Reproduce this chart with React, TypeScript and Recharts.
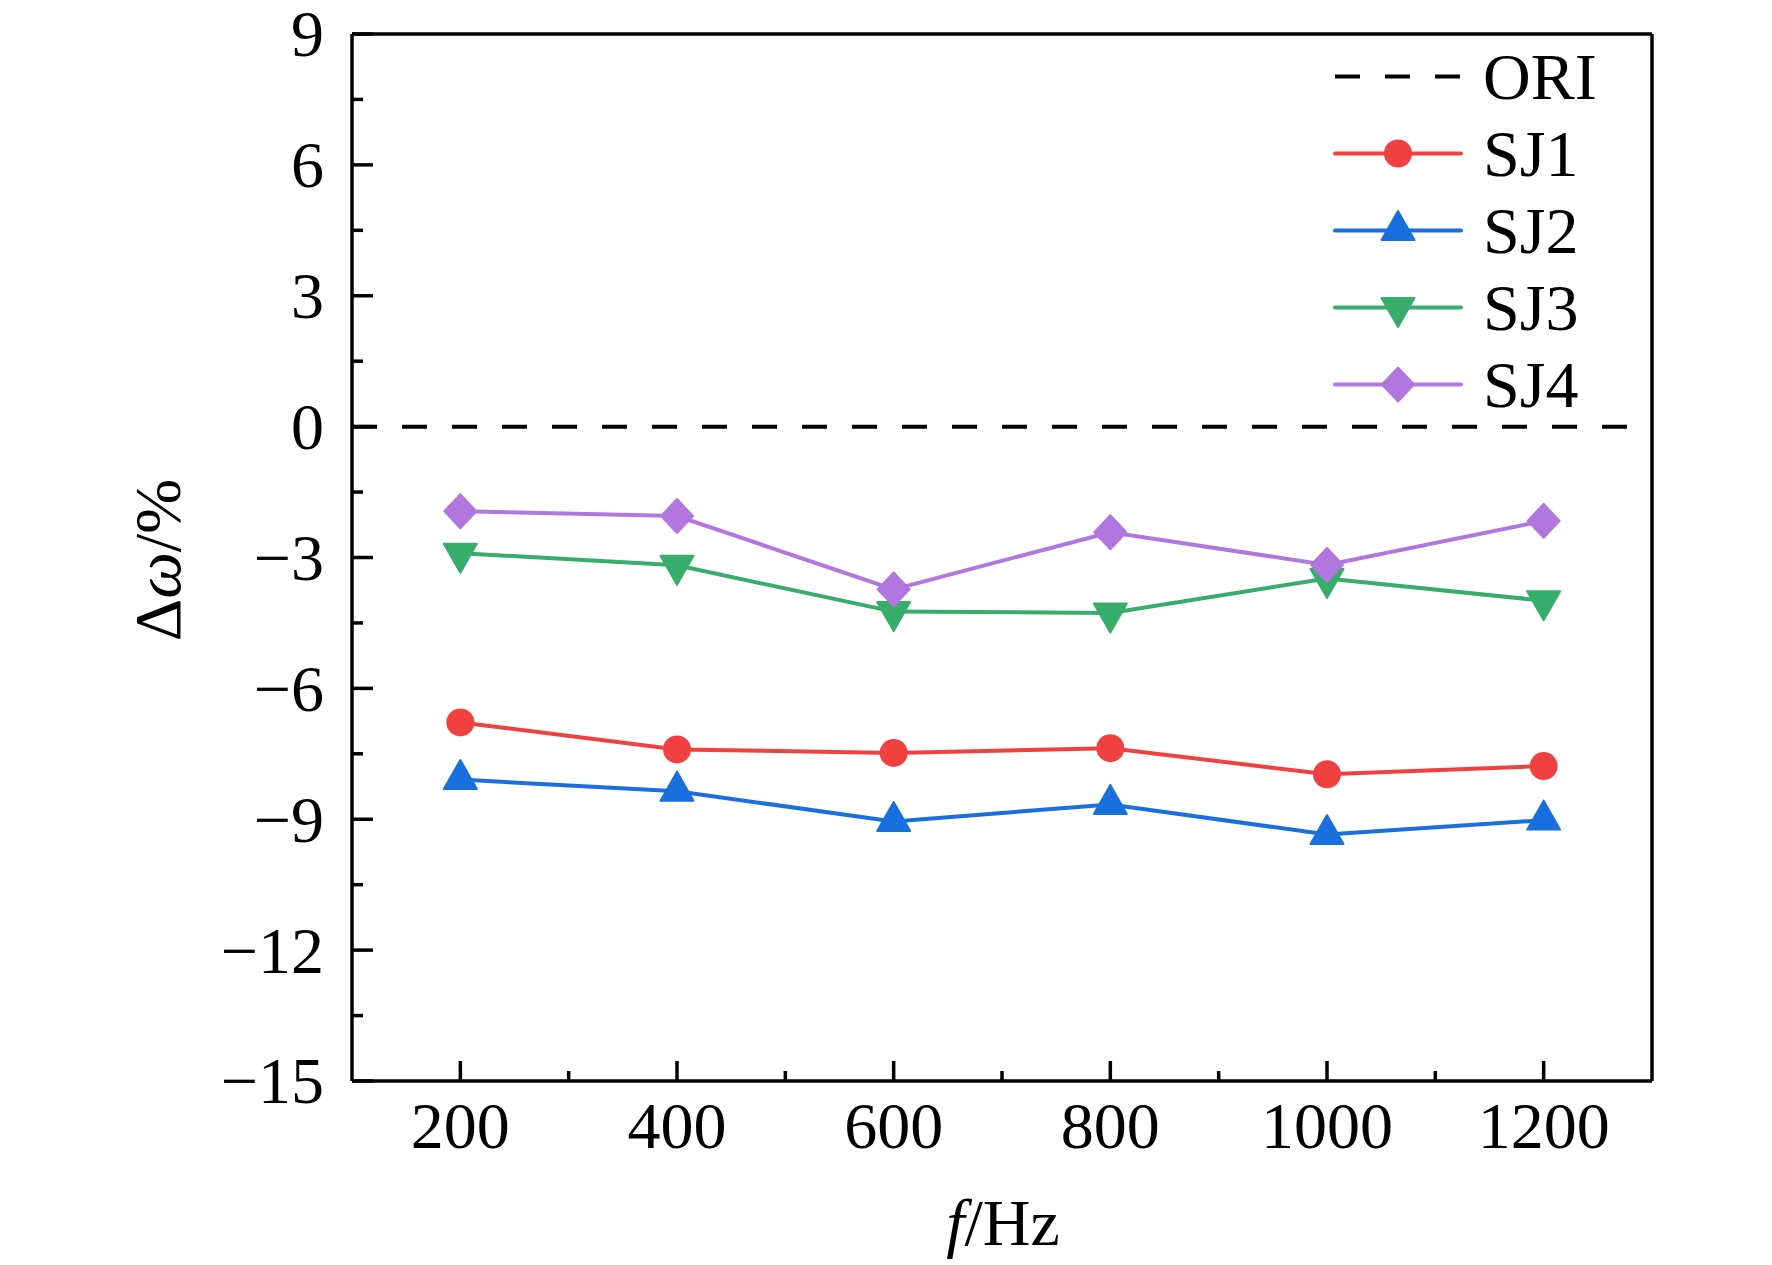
import React from 'react'
import { LineChart, Line, XAxis, YAxis, ReferenceLine, Label } from 'recharts'

const freq = [200, 400, 600, 800, 1000, 1200]
const sj1 = [-6.78, -7.4, -7.48, -7.37, -7.97, -7.78]
const sj2 = [-8.09, -8.36, -9.05, -8.66, -9.35, -9.02]
const sj3 = [-2.9, -3.18, -4.24, -4.27, -3.48, -3.99]
const sj4 = [-1.94, -2.05, -3.73, -2.42, -3.17, -2.16]

const xTicks = [200, 300, 400, 500, 600, 700, 800, 900, 1000, 1100, 1200]
const xMajor = [200, 400, 600, 800, 1000, 1200]
const yTicks = [-15, -13.5, -12, -10.5, -9, -7.5, -6, -4.5, -3, -1.5, 0, 1.5, 3, 4.5, 6, 7.5, 9]
const yMajor = [-15, -12, -9, -6, -3, 0, 3, 6, 9]

const RED = '#F14040'
const BLUE = '#1A6FDF'
const GREEN = '#37AD6B'
const PURPLE = '#B177DE'
const FONT = '"Liberation Serif", "Times New Roman", serif'
const FS = 66
const AXW = 3.5

const data = freq.map((f, i) => ({ f, SJ1: sj1[i], SJ2: sj2[i], SJ3: sj3[i], SJ4: sj4[i] }))

type Shape = 'circle' | 'up' | 'down' | 'diamond'

function marker(shape: Shape, cx: number, cy: number, color: string, key?: any) {
  if (shape === 'circle') return <circle key={key} cx={cx} cy={cy} r={14} fill={color} />
  let pts = ''
  if (shape === 'up') pts = `${cx},${cy - 19.5} ${cx - 16.5},${cy + 9.5} ${cx + 16.5},${cy + 9.5}`
  if (shape === 'down') pts = `${cx},${cy + 19.5} ${cx - 16.5},${cy - 9.5} ${cx + 16.5},${cy - 9.5}`
  if (shape === 'diamond') pts = `${cx},${cy - 17} ${cx + 16},${cy} ${cx},${cy + 17} ${cx - 16},${cy}`
  return <polygon key={key} points={pts} fill={color} stroke={color} strokeWidth={2} strokeLinejoin="round" />
}

const series: { key: string; color: string; shape: Shape }[] = [
  { key: 'SJ1', color: RED, shape: 'circle' },
  { key: 'SJ2', color: BLUE, shape: 'up' },
  { key: 'SJ3', color: GREEN, shape: 'down' },
  { key: 'SJ4', color: PURPLE, shape: 'diamond' },
]

const fmt = (v: number) => (v < 0 ? '\u2212' + Math.abs(v) : String(v))

function YTick(props: any) {
  const { x, y, payload } = props
  const v = payload.value
  const major = yMajor.includes(v)
  return (
    <g>
      <line x1={x} x2={x + (major ? 21 : 11)} y1={y} y2={y} stroke="#000" strokeWidth={AXW} />
      {major && (
        <text x={x - 28} y={y} dy="0.34em" textAnchor="end" fontFamily={FONT} fontSize={FS} fill="#000">
          {fmt(v)}
        </text>
      )}
    </g>
  )
}

function XTick(props: any) {
  const { x, y, payload } = props
  const v = payload.value
  const major = xMajor.includes(v)
  return (
    <g>
      <line x1={x} x2={x} y1={y} y2={y - (major ? 20 : 10)} stroke="#000" strokeWidth={AXW} />
      {major && (
        <text x={x} y={y + 67} textAnchor="middle" fontFamily={FONT} fontSize={FS} fill="#000">
          {v}
        </text>
      )}
    </g>
  )
}

function LegendBox() {
  const rows = [{ key: 'ORI', color: '#000', shape: null as Shape | null }, ...series]
  return (
    <div style={{ position: 'absolute', left: 1330, top: 38, fontFamily: FONT, fontSize: FS }}>
      {rows.map((r) => (
        <div key={r.key} style={{ display: 'flex', alignItems: 'center', height: 77, lineHeight: '77px' }}>
          <svg width={150} height={77} style={{ display: 'block' }}>
            {r.shape ? (
              <>
                <line x1={5} x2={131} y1={38.5} y2={38.5} stroke={r.color} strokeWidth={4} strokeLinecap="round" />
                {marker(r.shape, 68, 38.5, r.color)}
              </>
            ) : (
              <line x1={5} x2={131} y1={38.5} y2={38.5} stroke="#000" strokeWidth={4} strokeDasharray="25 25" />
            )}
          </svg>
          <span style={{ marginLeft: 3 }}>{r.key}</span>
        </div>
      ))}
    </div>
  )
}

function YLabel() {
  const cx = 180
  const cy = 560
  return (
    <text
      x={cx}
      y={cy}
      transform={`rotate(-90 ${cx} ${cy})`}
      textAnchor="middle"
      fontFamily={FONT}
      fontSize={FS}
      fill="#000"
    >
      Δ<tspan fontStyle="italic">ω</tspan>/%
    </text>
  )
}

function XLabel() {
  return (
    <text x={1003} y={1245} textAnchor="middle" fontFamily={FONT} fontSize={FS} fill="#000">
      <tspan fontStyle="italic">f</tspan>/Hz
    </text>
  )
}

export default function App() {
  return (
    <div style={{ position: 'absolute', left: 0, top: 0, width: 1772, height: 1265, background: '#fff' }}>
      <LineChart width={1772} height={1265} data={data} margin={{ top: 34, right: 120, bottom: 0, left: 0 }}>
        <XAxis
          dataKey="f"
          type="number"
          domain={[100, 1300]}
          ticks={xTicks}
          interval={0}
          height={184}
          tickSize={0}
          tickMargin={0}
          tickLine={false}
          tick={<XTick />}
          axisLine={{ stroke: '#000', strokeWidth: AXW }}
        >
          <Label content={<XLabel />} />
        </XAxis>
        <YAxis
          type="number"
          domain={[-15, 9]}
          ticks={yTicks}
          interval={0}
          width={352}
          tickSize={0}
          tickMargin={0}
          tickLine={false}
          tick={<YTick />}
          axisLine={{ stroke: '#000', strokeWidth: AXW }}
        >
          <Label content={<YLabel />} />
        </YAxis>
        {/* frame: top and right edges */}
        <ReferenceLine y={9} stroke="#000" strokeWidth={AXW} />
        <ReferenceLine x={1300} stroke="#000" strokeWidth={AXW} />
        <ReferenceLine y={0} stroke="#000" strokeWidth={4} strokeDasharray="25 25" />
        {series.map((s) => (
          <Line
            key={s.key}
            type="linear"
            dataKey={s.key}
            stroke={s.color}
            strokeWidth={4}
            isAnimationActive={false}
            dot={(p: any) => marker(s.shape, p.cx, p.cy, s.color, p.key ?? p.index)}
            activeDot={false}
          />
        ))}
      </LineChart>
      <LegendBox />
    </div>
  )
}
